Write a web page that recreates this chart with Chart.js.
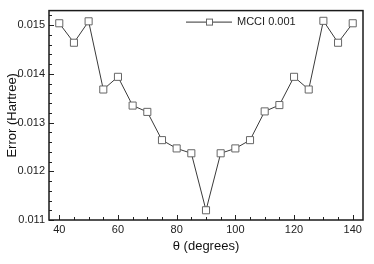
<!DOCTYPE html>
<html>
<head>
<meta charset="utf-8">
<script src="https://cdn.jsdelivr.net/npm/chart.js@4/dist/chart.umd.min.js"></script>
<style>
  html, body { margin: 0; padding: 0; background: #fff; }
  #wrap { width: 374px; height: 264px; }
</style>
</head>
<body>
<div id="wrap"><canvas id="chart"></canvas></div>
<script>
// Data
const angles = [40, 45, 50, 55, 60, 65, 70, 75, 80, 85, 90, 95, 100, 105, 110, 115, 120, 125, 130, 135, 140];
const errors = [0.01504, 0.01464, 0.01508, 0.01368, 0.01394, 0.01335, 0.01322, 0.01264, 0.01247, 0.01237, 0.01120,
                0.01237, 0.01247, 0.01264, 0.01323, 0.01336, 0.01394, 0.01368, 0.01509, 0.01464, 0.01504];
const xTicks = [40, 60, 80, 100, 120, 140];
const yTicks = [0.011, 0.012, 0.013, 0.014, 0.015];
const seriesLabel = 'MCCI 0.001';

const FONT = '"Liberation Sans", Arial, Helvetica, sans-serif';

// Frame, inward ticks and the line+marker legend
const framePlugin = {
  id: 'frame',
  afterDraw(chart) {
    const ctx = chart.ctx;
    const a = chart.chartArea;
    const xs = chart.scales.x, ys = chart.scales.y;
    ctx.save();
    ctx.strokeStyle = '#222';
    ctx.lineWidth = 1;
    // x ticks (major every 20, minor every 5)
    for (let v = 40; v <= 140; v += 5) {
      const px = Math.round(xs.getPixelForValue(v)) + 0.5;
      const len = xTicks.includes(v) ? 5 : 3;
      ctx.beginPath();
      ctx.moveTo(px, a.bottom);
      ctx.lineTo(px, a.bottom - len);
      ctx.stroke();
    }
    // y ticks (major 0.001, minor 0.0002)
    for (let i = 0; i <= 21; i++) {
      const v = 0.011 + i * 0.0002;
      if (v > ys.max) break;
      const py = Math.round(ys.getPixelForValue(v)) + 0.5;
      const len = i % 5 === 0 ? 5 : 3;
      ctx.beginPath();
      ctx.moveTo(a.left, py);
      ctx.lineTo(a.left + len, py);
      ctx.stroke();
    }
    // frame
    ctx.lineWidth = 1.5;
    ctx.strokeStyle = '#1a1a1a';
    ctx.strokeRect(a.left, a.top, a.right - a.left, a.bottom - a.top);

    // legend
    const ly = a.top + 11.5;
    ctx.lineWidth = 1;
    ctx.strokeStyle = '#333';
    ctx.beginPath();
    ctx.moveTo(186, ly);
    ctx.lineTo(232, ly);
    ctx.stroke();
    ctx.fillStyle = '#fff';
    ctx.strokeStyle = '#666';
    ctx.fillRect(206.5, ly - 3, 6, 6);
    ctx.strokeRect(206.5, ly - 3, 6, 6);
    ctx.fillStyle = '#222';
    ctx.font = '11px ' + FONT;
    ctx.textBaseline = 'middle';
    ctx.textAlign = 'left';
    ctx.fillText(seriesLabel, 237, ly);
    ctx.restore();
  }
};

const ctx = document.getElementById('chart').getContext('2d');
new Chart(ctx, {
  type: 'line',
  data: {
    datasets: [{
      label: seriesLabel,
      data: angles.map((a, i) => ({ x: a, y: errors[i] })),
      borderColor: '#3a3a3a',
      borderWidth: 1,
      tension: 0,
      fill: false,
      pointStyle: 'rect',
      pointRadius: 5,
      pointBorderWidth: 1,
      pointBorderColor: '#666',
      pointBackgroundColor: '#fff'
    }]
  },
  options: {
    responsive: true,
    maintainAspectRatio: false,
    animation: false,
    layout: { padding: { top: 5, right: 11, left: 0, bottom: 0 } },
    plugins: {
      legend: { display: false },
      tooltip: { enabled: false }
    },
    scales: {
      x: {
        type: 'linear',
        min: 36.5,
        max: 143.5,
        afterBuildTicks: (s) => { s.ticks = xTicks.map(v => ({ value: v })); },
        afterFit: (s) => { s.height = 44; },
        grid: { display: false, drawTicks: false },
        border: { display: false },
        ticks: { padding: 3, color: '#222', font: { family: FONT, size: 11 } },
        title: {
          display: true,
          text: 'θ (degrees)',
          color: '#111',
          font: { family: FONT, size: 13 },
          padding: { top: 0, bottom: 10 }
        }
      },
      y: {
        type: 'linear',
        min: 0.011,
        max: 0.0153,
        afterBuildTicks: (s) => { s.ticks = yTicks.map(v => ({ value: v })); },
        afterFit: (s) => { s.width = 49; },
        grid: { display: false, drawTicks: false },
        border: { display: false },
        ticks: {
          padding: 4,
          color: '#222',
          font: { family: FONT, size: 11 },
          callback: (v) => v.toFixed(3)
        },
        title: {
          display: true,
          text: 'Error (Hartree)',
          color: '#111',
          font: { family: FONT, size: 13 },
          padding: { top: 5, bottom: 0 }
        }
      }
    }
  },
  plugins: [framePlugin]
});
</script>
</body>
</html>
